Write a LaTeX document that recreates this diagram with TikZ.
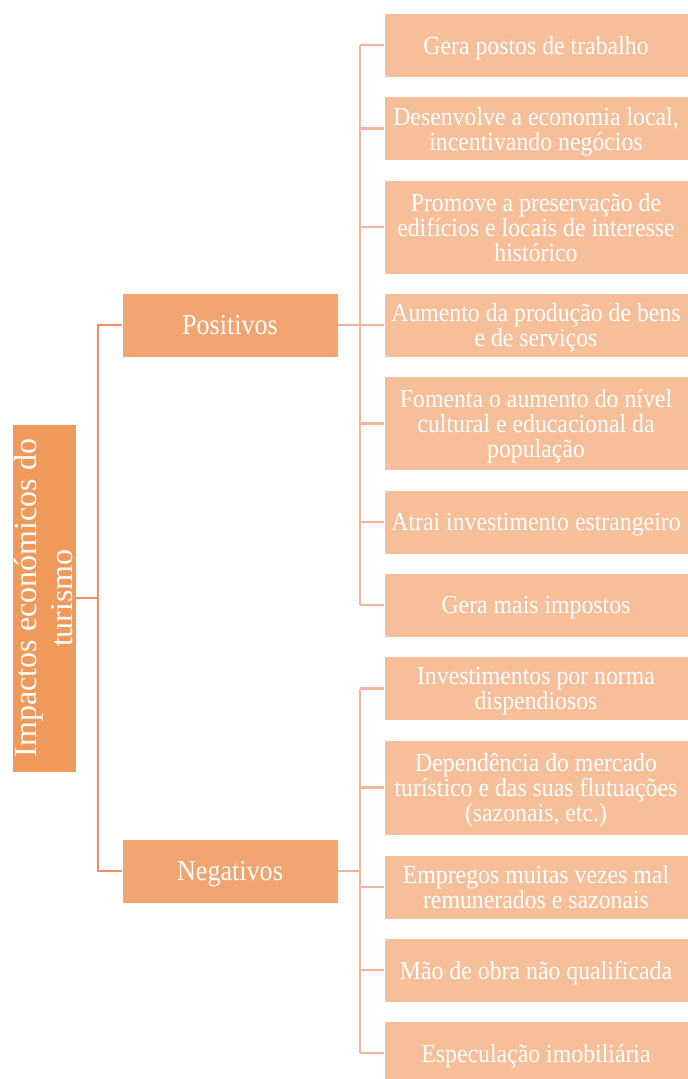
\documentclass[tikz,border=0pt]{standalone}
\usepackage{fontspec}
\setmainfont{Liberation Serif}
\newfontfamily\leaffont{Liberation Serif}[FakeStretch=0.915]
\newfontfamily\midfont{Liberation Serif}[FakeStretch=0.9]
\definecolor{rootfill}{HTML}{EF995B}
\definecolor{midfill}{HTML}{F1A46F}
\definecolor{leaffill}{HTML}{F6BE99}
\definecolor{line1}{HTML}{EE9064}
\definecolor{line2}{HTML}{F3B49C}
\begin{document}
\begin{tikzpicture}[x=1pt,y=-1pt,
  base/.style={inner sep=2pt, outer sep=0pt, text=white, align=center, draw=white, line width=0.6pt},
  rootbox/.style={base, fill=rootfill, minimum width=348pt, minimum height=64pt, rotate=90,
    font=\fontsize{32}{36}\selectfont},
  midbox/.style={base, fill=midfill, minimum width=216pt, minimum height=64pt, text depth=0pt,
    font=\midfont\fontsize{29}{30}\selectfont},
  leafbox/.style={base, fill=leaffill, minimum width=304pt, text depth=0pt,
    font=\leaffont\fontsize{26}{25}\selectfont},
  conA/.style={line1, line width=2.6pt},
  conB/.style={line2, line width=2.6pt}
]
\useasboundingbox (0,0) rectangle (688,1079);
\clip (0,0) rectangle (688,1079);
\fill[white] (0,0) rectangle (688,1079);

\node[rootbox] (root) at (44,598) {Impactos económicos do\\turismo};
\node[midbox] (pos) at (230,325) {Positivos};
\node[midbox] (neg) at (230,871) {Negativos};

\node[leafbox, minimum height=64pt] (l1) at (536,45) {Gera postos de trabalho};
\node[leafbox, minimum height=64pt] (l2) at (536,128.5) {Desenvolve a economia local,\\incentivando negócios};
\node[leafbox, minimum height=94pt] (l3) at (536,227) {Promove a preservação de\\edifícios e locais de interesse\\histórico};
\node[leafbox, minimum height=64pt] (l4) at (536,325) {Aumento da produção de bens\\e de serviços};
\node[leafbox, minimum height=94pt] (l5) at (536,423.5) {Fomenta o aumento do nível\\cultural e educacional da\\população};
\node[leafbox, minimum height=64pt] (l6) at (536,522) {Atrai investimento estrangeiro};
\node[leafbox, minimum height=64pt] (l7) at (536,605) {Gera mais impostos};
\node[leafbox, minimum height=64pt] (l8) at (536,688.5) {Investimentos por norma\\dispendiosos};
\node[leafbox, minimum height=95pt] (l9) at (536,787.5) {Dependência do mercado\\turístico e das suas flutuações\\(sazonais, etc.)};
\node[leafbox, minimum height=64pt] (l10) at (536,887) {Empregos muitas vezes mal\\remunerados e sazonais};
\node[leafbox, minimum height=64pt] (l11) at (536,970) {Mão de obra não qualificada};
\node[leafbox, minimum height=64pt] (l12) at (536,1053) {Especulação imobiliária};

% root connectors
\draw[conA] (root.south) -- ++(22,0);
\draw[conA] (pos.west) -- ++(-24,0) |- (neg.west);

% positive connectors
\draw[conB] (pos.east) -- ++(22,0);
\foreach \n in {l1,l2,l3,l4,l5,l6,l7}{
  \draw[conB] (\n.west) -- ++(-24,0);
}
\draw[conB] ([xshift=-24pt]l1.west) -- ([xshift=-24pt]l7.west);

% negative connectors
\draw[conB] (neg.east) -- ++(22,0);
\foreach \n in {l8,l9,l10,l11,l12}{
  \draw[conB] (\n.west) -- ++(-24,0);
}
\draw[conB] ([xshift=-24pt]l8.west) -- ([xshift=-24pt]l12.west);
\end{tikzpicture}
\end{document}
